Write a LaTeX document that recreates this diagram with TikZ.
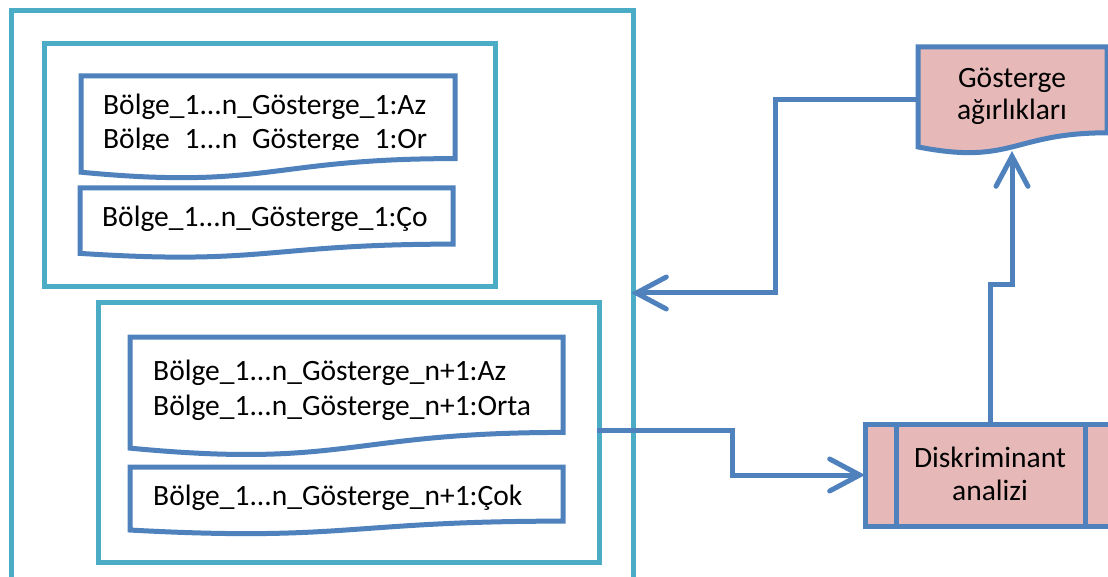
\documentclass[tikz,border=0pt]{standalone}
\usepackage{fontspec}
\setmainfont{Carlito}
\usetikzlibrary{arrows.meta}
\definecolor{cyanline}{RGB}{75,172,198}
\definecolor{blueline}{RGB}{79,129,189}
\definecolor{pinkfill}{RGB}{230,185,184}
\newcommand{\docpath}[4]{(#1,#2) -- ({#1+#3},#2) -- ({#1+#3},{#2+0.802*#4}) .. controls ({#1+0.5*#3},{#2+0.802*#4}) and ({#1+0.5*#3},{#2+1.1075*#4}) .. (#1,{#2+0.934*#4}) -- cycle}
\begin{document}
\begin{tikzpicture}[x=1pt,y=-1pt,
  cyanbox/.style={draw=cyanline,line width=5pt,rectangle,inner sep=0pt},
  docline/.style={draw=blueline,line width=5pt,line join=miter},
  txt/.style={anchor=base west,inner sep=0pt,font=\fontsize{29.5}{33}\selectfont},
  ctxt/.style={anchor=base,inner sep=0pt,font=\fontsize{29.5}{33}\selectfont},
  conn/.style={draw=blueline,line width=5pt,-{Straight Barb[length=30pt,width=32pt,line cap=round]}}]
\useasboundingbox (0,0) rectangle (1108,577);
\begin{scope}
\clip (0,0) rectangle (1108,577);
% containers
\node[cyanbox,anchor=north west,minimum width=622.5pt,minimum height=571pt] (outer) at (8.5,8.5) {};
\node[cyanbox,anchor=north west,minimum width=451.5pt,minimum height=242.5pt] (top) at (41.5,41.5) {};
\node[cyanbox,anchor=north west,minimum width=501.5pt,minimum height=260pt] (bot) at (95.5,300) {};
% documents
\draw[docline,fill=white] \docpath{81}{76}{374}{103};
\begin{scope}
\clip (81,76) rectangle (455,149.3);
\node[txt] (d1a) at (103,115) {Bölge\_1...n\_Gösterge\_1:Az};
\node[txt] (d1b) at (103,149) {Bölge\_1...n\_Gösterge\_1:Or};
\end{scope}
\draw[docline,fill=white] \docpath{80}{188}{373}{70};
\node[txt] (d2) at (102,227) {Bölge\_1...n\_Gösterge\_1:Ço};
\draw[docline,fill=white] \docpath{130}{337}{433}{119};
\node[txt] (d3a) at (153,380) {Bölge\_1...n\_Gösterge\_n+1:Az};
\node[txt] (d3b) at (153,415) {Bölge\_1...n\_Gösterge\_n+1:Orta};
\draw[docline,fill=white] \docpath{130}{467}{433}{67.5};
\node[txt] (d4) at (153,505) {Bölge\_1...n\_Gösterge\_n+1:Çok};
% Gosterge agirliklari
\draw[docline,fill=pinkfill] \docpath{918}{47}{189}{107};
\begin{scope}
\clip (918,47) rectangle (1107,124);
\node[ctxt] (g1) at (1012,88) {Gösterge};
\node[ctxt] (g2) at (1012,120) {ağırlıkları};
\end{scope}
% Diskriminant analizi
\node[draw=blueline,fill=pinkfill,line width=5pt,rectangle,inner sep=0pt,minimum width=251pt,minimum height=102pt] (disk) at (990.5,475) {};
\draw[blueline,line width=5pt] (896,424) -- (896,526) (1085,424) -- (1085,526);
\node[ctxt] (k1) at (990,467) {Diskriminant};
\node[ctxt] (k2) at (990,500) {analizi};
% connector endpoints
\coordinate (gosL) at (918,100);
\coordinate (gosB) at (1012,151);
\coordinate (diskT) at (990,424);
\coordinate (botE) at (597,430);
\coordinate (outE) at (631,293);
\coordinate (diskW) at (865,475);
% connectors
\draw[conn] (gosL) -- (775,100) -- (775,293) -- (outE);
\draw[conn] (botE) -- (732,430) -- (732,475) -- (diskW);
\draw[conn] (diskT) -- (990,285) -- (1012,285) -- (gosB);
\end{scope}
\end{tikzpicture}
\end{document}
